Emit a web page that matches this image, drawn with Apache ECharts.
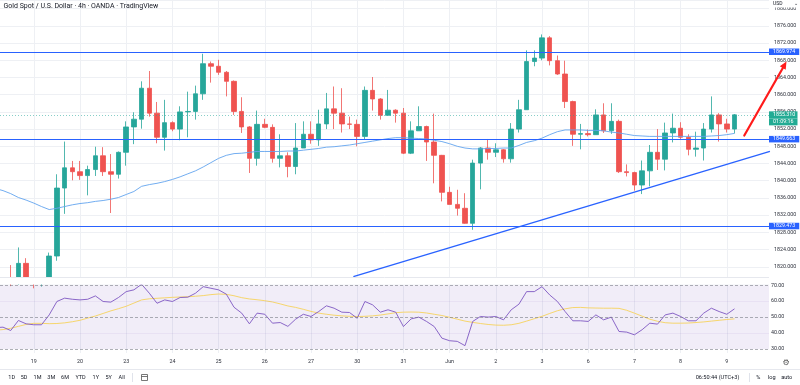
<!DOCTYPE html>
<html><head><meta charset="utf-8">
<script src="https://cdn.jsdelivr.net/npm/echarts@6/dist/echarts.min.js"></script>
<style>html,body{margin:0;padding:0;background:#fff}#c{width:800px;height:385px}</style>
</head><body><div id="c"></div>
<script>
// ---- time axis ----
const dayTickIndex = [3, 9, 15, 21, 27, 33, 39, 45, 51, 57, 63, 69, 75, 81, 87, 93];
const dayLabels = ['19', '20', '23', '24', '25', '26', '27', '30', '31', 'Jun', '2', '3', '6', '7', '8', '9'];

// ---- 4h candles (bar index 0..94) ----
const opens = [1817.2,1816.6,1820.8,1817.0,1816.2,1816.9,1822.5,1838.3,1843.0,1842.1,1841.2,1842.6,1845.8,1842.1,1841.5,1846.6,1852.5,1854.3,1861.5,1855.7,1850.1,1853.5,1852.0,1856.0,1856.1,1860.2,1867.2,1866.6,1865.2,1863.1,1856.1,1852.5,1845.2,1853.1,1852.4,1845.2,1845.8,1843.3,1847.6,1850.8,1849.5,1853.2,1856.7,1855.7,1853.2,1853.1,1850.3,1861.0,1859.0,1855.2,1856.4,1855.7,1846.4,1851.6,1852.6,1849.0,1845.9,1837.3,1834.5,1833.6,1830.1,1844.1,1847.6,1846.6,1847.2,1845.1,1852.0,1856.5,1867.7,1868.5,1873.2,1867.9,1864.8,1858.4,1850.8,1850.95,1850.7,1855.3,1851.6,1853.8,1842.1,1841.9,1839.0,1842.3,1846.6,1845.0,1851.1,1852.2,1850.1,1847.3,1847.6,1852.0,1855.3,1853.2,1852.0];
const closes = [1816.6,1820.8,1817.0,1816.2,1816.9,1822.5,1838.3,1843.0,1842.1,1841.2,1842.6,1845.8,1842.1,1841.5,1846.6,1852.5,1854.3,1861.5,1855.7,1850.1,1853.5,1852.0,1856.0,1856.1,1860.2,1867.2,1866.6,1865.2,1863.1,1856.1,1852.5,1845.2,1853.1,1852.4,1845.2,1845.8,1843.3,1847.6,1850.8,1849.5,1853.2,1856.7,1855.7,1853.2,1853.1,1850.3,1861.0,1859.0,1855.2,1856.4,1855.7,1846.4,1851.6,1852.6,1849.0,1845.9,1837.3,1834.5,1833.6,1830.1,1844.1,1847.6,1846.6,1847.2,1845.1,1852.0,1856.5,1867.7,1868.5,1873.2,1867.9,1864.8,1858.4,1850.8,1850.95,1850.7,1855.3,1851.6,1853.8,1842.1,1841.9,1839.0,1842.3,1846.6,1845.0,1851.1,1852.2,1850.1,1847.3,1847.6,1852.0,1855.3,1853.2,1852.0,1855.31];
const lows = [1815.5,1815.8,1816.0,1815.0,1815.4,1816.0,1821.4,1832.3,1840.1,1840.2,1836.6,1841.1,1841.1,1832.5,1840.5,1843.5,1848.5,1852.1,1854.9,1848.7,1847.0,1851.5,1849.4,1850.1,1854.2,1858.8,1862.8,1864.6,1859.6,1855.3,1851.1,1841.8,1843.5,1852.2,1844.2,1843.1,1840.8,1841.5,1847.6,1848.6,1848.1,1852.0,1852.0,1851.2,1852.0,1848.0,1849.5,1856.3,1854.2,1855.2,1853.5,1846.2,1846.2,1851.6,1844.6,1839.4,1835.2,1834.5,1831.9,1830.0,1828.6,1838.0,1844.9,1845.5,1844.2,1844.2,1851.2,1856.5,1866.6,1868.0,1866.8,1864.6,1856.9,1848.1,1847.3,1850.3,1850.7,1851.1,1850.9,1841.8,1841.0,1837.7,1836.9,1838.7,1842.5,1842.4,1848.9,1849.6,1845.9,1845.6,1844.7,1851.2,1849.1,1851.2,1851.0];
const highs = [1820.4,1824.5,1822.0,1817.4,1817.4,1823.3,1841.5,1849.1,1844.6,1844.6,1843.5,1847.9,1847.8,1846.2,1846.8,1853.8,1855.9,1863.1,1865.5,1858.3,1858.8,1853.8,1857.3,1860.7,1862.1,1869.5,1867.7,1868.1,1865.5,1863.3,1859.4,1852.7,1856.3,1854.4,1853.1,1850.8,1846.6,1853.4,1853.8,1853.8,1856.5,1860.4,1861.9,1861.5,1854.9,1854.2,1861.9,1864.1,1859.2,1861.1,1856.6,1856.9,1853.8,1857.3,1852.8,1855.6,1846.0,1838.6,1837.9,1837.1,1844.9,1847.8,1849.7,1848.7,1847.4,1853.4,1858.8,1870.3,1870.3,1874.0,1873.6,1869.1,1867.9,1858.6,1853.2,1851.9,1856.6,1858.0,1858.0,1854.2,1843.8,1842.1,1844.7,1848.3,1852.0,1853.5,1855.6,1853.6,1850.8,1851.4,1853.4,1859.6,1855.7,1854.4,1855.5];

// ---- indicator lines (index -2..94) ----
const lineStart = -2;
const priceMA = [1838.2,1837.7,1837.0,1836.1,1835.5,1834.8,1834.0,1833.3,1833.6,1834.0,1834.4,1834.7,1834.9,1835.2,1835.4,1835.7,1836.1,1836.8,1837.5,1838.7,1839.1,1839.4,1839.8,1840.3,1840.9,1841.6,1842.3,1843.2,1844.2,1845.2,1845.9,1846.3,1846.4,1846.6,1846.8,1846.8,1846.8,1846.8,1846.9,1846.9,1847.1,1847.3,1847.5,1847.8,1847.9,1848.1,1848.3,1848.6,1848.9,1849.2,1849.5,1849.8,1850.0,1850.0,1849.9,1849.8,1849.7,1849.4,1849.1,1848.6,1848.0,1847.6,1847.4,1847.4,1847.5,1847.5,1847.6,1847.6,1848.2,1848.9,1849.3,1849.9,1850.7,1851.4,1851.8,1851.8,1851.8,1851.7,1851.7,1851.6,1851.3,1851.1,1850.8,1850.5,1850.4,1850.3,1850.3,1850.3,1850.3,1850.3,1850.3,1850.3,1850.3,1850.4,1850.5,1850.7,1851.0];
const rsi = [43.4,43.7,41.6,47.9,45.8,45.2,45.2,51.4,59.8,61.9,61.2,60.8,61.2,63.3,59.8,59.4,62.3,66.0,67.1,70.6,65.0,58.7,60.8,59.8,62.3,62.5,65.0,69.1,68.1,67.1,64.4,56.2,52.5,45.8,52.5,51.8,46.2,46.6,44.2,48.7,51.8,50.4,53.5,57.1,55.6,53.1,52.9,49.3,59.8,57.7,53.1,54.6,53.1,44.1,48.9,50.0,47.3,44.1,36.8,35.2,34.8,32.1,47.3,50.4,50.0,50.4,48.3,54.6,58.1,66.0,66.0,69.1,63.9,59.8,53.5,47.7,47.7,47.3,51.4,48.3,50.0,41.0,40.6,38.9,42.1,46.2,45.6,51.4,52.5,50.4,47.7,47.7,52.5,55.6,53.5,51.8,55.2];
const rsiMA = [41.8,42.2,43.0,44.2,45.4,46.1,46.1,45.9,46.0,46.4,47.1,48.0,49.4,50.7,52.3,53.9,55.3,56.8,58.8,60.8,61.5,61.8,62.1,62.4,62.6,62.8,63.1,63.5,64.1,64.5,64.3,63.4,62.2,61.4,60.9,60.3,59.5,58.3,57.0,56.1,54.9,53.6,52.5,51.8,51.2,50.8,50.5,50.4,50.5,50.8,51.3,52.0,52.8,53.1,53.2,53.1,52.6,51.8,51.0,49.9,48.7,47.5,46.7,46.0,45.4,45.0,44.9,45.2,46.1,47.5,49.0,50.5,52.3,54.0,55.2,56.0,56.1,55.8,55.7,55.6,55.6,55.5,54.3,52.5,50.6,48.7,47.4,46.5,46.2,46.2,46.3,46.6,47.0,47.5,48.0,48.5,48.9];

// ---- drawings ----
const levelPrices = [1869.974, 1849.663, 1829.473];
const trendLine = [[44.5, 1817.7], [98.6, 1846.8]];
const arrowLine = [[95.27, 1850.5], [100.75, 1867.7]];
const lastPrice = 1855.31;
const countdown = '01:09:16';
const rsiDashed = [70, 50, 30];
const rsiSolid = [60, 40];
const rsiLabels = [30, 40, 50, 60, 70];

const UP = '#26a69a', DOWN = '#ef5350', BLUE = '#2962ff', ARROW = '#ff1b1b';
const TXT = '#2a2e39';
const FS = 5.3;
const xMin = -1.39, xMax = 98.48;

const candleData = opens.map((o, i) => [i, o, closes[i], lows[i], highs[i]]);
const toXY = (arr) => arr.map((v, k) => [k + lineStart, v]);

const chart = echarts.init(document.getElementById('c'), null, {renderer: 'canvas'});
const gridLine = {show: true, lineStyle: {color: '#eef0f4', width: 1}};

const staticGraphic = [
  {type: 'rect', z: 50, shape: {x: 0, y: 277.4, width: 769, height: 7.2}, style: {fill: '#fff'}},
  {type: 'line', z: 51, shape: {x1: 0, y1: 277.5, x2: 769, y2: 277.5}, style: {stroke: '#e6e8ee', lineWidth: 1}},
  {type: 'line', z: 51, shape: {x1: 0, y1: 369.5, x2: 800, y2: 369.5}, style: {stroke: '#e6e8ee', lineWidth: 1}},
  {type: 'text', z: 52, x: 3.5, y: 6, style: {text: 'Gold Spot / U.S. Dollar · 4h · OANDA · TradingView', fontSize: 7, fill: '#131722', verticalAlign: 'middle', fontFamily: 'Roboto'}},
  {type: 'rect', z: 50, shape: {x: 769, y: 0, width: 31, height: 7.5}, style: {fill: '#fff'}},
  {type: 'text', z: 52, x: 773, y: 4, style: {text: 'USD', fontSize: 5, fill: '#131722', verticalAlign: 'middle', fontFamily: 'Roboto'}},
  {type: 'text', z: 52, x: 794, y: 4, style: {text: '⌄', fontSize: 5, fill: '#131722', verticalAlign: 'middle', fontFamily: 'DejaVu Sans'}},
  {type: 'text', z: 52, x: 786, y: 362.5, style: {text: '⚙', fontSize: 8, fill: '#555', align: 'center', verticalAlign: 'middle', fontFamily: 'DejaVu Sans'}},
  ...[['1D', 11.7], ['5D', 24], ['1M', 37.5], ['3M', 51.3], ['6M', 65], ['YTD', 80.5], ['1Y', 95.8], ['5Y', 108.7], ['All', 121.7]].map(([t, x]) => (
    {type: 'text', z: 52, x: x, y: 377.7, style: {text: t, fontSize: 5.5, fill: '#131722', align: 'center', verticalAlign: 'middle', fontFamily: 'Roboto'}})),
  {type: 'line', z: 51, shape: {x1: 132.5, y1: 373, x2: 132.5, y2: 382}, style: {stroke: '#e0e3eb', lineWidth: 1}},
  {type: 'rect', z: 51, shape: {x: 141.5, y: 374.5, width: 6, height: 6}, style: {fill: 'none', stroke: '#555', lineWidth: 0.8}},
  {type: 'line', z: 51, shape: {x1: 141.5, y1: 376.5, x2: 147.5, y2: 376.5}, style: {stroke: '#555', lineWidth: 0.8}},
  {type: 'text', z: 52, x: 717.5, y: 377.7, style: {text: '06:50:44 (UTC+3)', fontSize: 5.6, fill: '#131722', align: 'center', verticalAlign: 'middle', fontFamily: 'Roboto'}},
  {type: 'line', z: 51, shape: {x1: 749.5, y1: 373, x2: 749.5, y2: 382}, style: {stroke: '#e0e3eb', lineWidth: 1}},
  {type: 'text', z: 52, x: 758.3, y: 377.7, style: {text: '%', fontSize: 5.6, fill: '#131722', align: 'center', verticalAlign: 'middle', fontFamily: 'Roboto'}},
  {type: 'text', z: 52, x: 771.7, y: 377.7, style: {text: 'log', fontSize: 5.6, fill: '#131722', align: 'center', verticalAlign: 'middle', fontFamily: 'Roboto'}},
  {type: 'text', z: 52, x: 786.7, y: 377.7, style: {text: 'auto', fontSize: 5.6, fill: '#131722', align: 'center', verticalAlign: 'middle', fontFamily: 'Roboto'}}
];

chart.setOption({
  animation: false,
  backgroundColor: '#fff',
  textStyle: {fontFamily: 'Roboto'},
  grid: [
    {left: 0, right: 31, top: 0, height: 284},
    {left: 0, right: 31, top: 283, height: 70}
  ],
  xAxis: [
    {type: 'value', gridIndex: 0, min: xMin, max: xMax,
     axisLine: {show: false}, axisTick: {show: false, customValues: dayTickIndex},
     axisLabel: {show: false, customValues: dayTickIndex}, splitLine: gridLine},
    {type: 'value', gridIndex: 1, min: xMin, max: xMax,
     axisLine: {show: false}, axisTick: {show: false, customValues: dayTickIndex},
     axisLabel: {show: true, customValues: dayTickIndex, margin: 6, fontSize: FS, color: TXT,
       formatter: (v) => { const k = dayTickIndex.indexOf(Math.round(v)); return k >= 0 ? dayLabels[k] : ''; }},
     splitLine: gridLine}
  ],
  yAxis: [
    {type: 'value', gridIndex: 0, position: 'right', min: 1816, max: 1882, interval: 4,
     axisLine: {show: false}, axisTick: {show: false}, splitLine: gridLine,
     axisLabel: {margin: 5, fontSize: FS, color: TXT,
       formatter: (v) => (Math.abs(v % 4) < 1e-6 && v !== 1816) ? v.toFixed(3) : ''}},
    {type: 'value', gridIndex: 1, position: 'right', min: 27.5, max: 71.4,
     axisLine: {show: false}, axisTick: {show: false}, splitLine: {show: false},
     axisLabel: {margin: 2, fontSize: FS, color: TXT, customValues: rsiLabels,
       formatter: (v) => v.toFixed(2)}}
  ],
  series: [
    {type: 'candlestick', xAxisIndex: 0, yAxisIndex: 0, data: candleData,
     encode: {x: 0, y: [1, 2, 3, 4]}, barWidth: 5, clip: true,
     itemStyle: {color: UP, color0: DOWN, borderColor: UP, borderColor0: DOWN, borderWidth: 0.8}},
    {type: 'line', xAxisIndex: 0, yAxisIndex: 0, data: toXY(priceMA), symbol: 'none', clip: false, z: 3,
     lineStyle: {color: '#62a4ee', width: 0.9},
     markLine: {silent: true, symbol: 'none', animation: false,
       data: [
         ...levelPrices.map(p => ({yAxis: p, lineStyle: {color: BLUE, width: 1.2, type: 'solid'},
           label: {show: true, position: 'end', distance: 0, formatter: p.toFixed(3), color: '#fff',
             backgroundColor: BLUE, padding: [1, 4, 0.5, 4], fontSize: FS}})),
         {yAxis: lastPrice, lineStyle: {color: 'rgba(38,166,154,0.55)', width: 1, type: [1, 2]},
          label: {show: true, position: 'end', distance: 0, lineHeight: 7,
            formatter: '{e| }\n{a|' + lastPrice.toFixed(3) + '}\n{b|' + countdown + '}',
            rich: {
              e: {height: 7, lineHeight: 7, fontSize: FS},
              a: {height: 7, lineHeight: 7, width: 21, padding: [0, 3.5, 0, 4], backgroundColor: '#22ab94', color: '#fff', fontSize: FS},
              b: {height: 7, lineHeight: 7, width: 21, padding: [0, 3.5, 0, 4], backgroundColor: '#22ab94', color: '#fff', fontSize: FS}
            }}}
       ]
     }},
    {type: 'line', xAxisIndex: 0, yAxisIndex: 0, data: trendLine, symbol: 'none', clip: false, z: 6,
     lineStyle: {color: BLUE, width: 1.3}},
    {type: 'line', xAxisIndex: 1, yAxisIndex: 1, data: toXY(rsi), symbol: 'none', z: 4,
     lineStyle: {color: '#7e57c2', width: 0.9},
     markArea: {silent: true, itemStyle: {color: 'rgba(126,87,194,0.11)'}, data: [[{yAxis: 30}, {yAxis: 70}]]},
     markLine: {silent: true, symbol: 'none', label: {show: false},
       data: [
         ...rsiDashed.map(v => ({yAxis: v, lineStyle: {color: 'rgba(120,123,134,0.6)', width: 1, type: [3, 2]}})),
         ...rsiSolid.map(v => ({yAxis: v, lineStyle: {color: 'rgba(126,87,194,0.08)', width: 1, type: 'solid'}}))
       ]}},
    {type: 'line', xAxisIndex: 1, yAxisIndex: 1, data: toXY(rsiMA), symbol: 'none', z: 3,
     lineStyle: {color: '#f6d35c', width: 0.9}}
  ],
  graphic: staticGraphic
});

// Red arrow drawing: endpoints given in data space, mapped through the price grid's scales
const p0 = chart.convertToPixel({gridIndex: 0}, arrowLine[0]);
const p1 = chart.convertToPixel({gridIndex: 0}, arrowLine[1]);
const dx = p1[0] - p0[0], dy = p1[1] - p0[1];
const len = Math.sqrt(dx * dx + dy * dy);
const ux = dx / len, uy = dy / len, nx = -uy, ny = ux;
const headLen = 7.5, headHalf = 3.4;
const bx = p1[0] - ux * headLen, by = p1[1] - uy * headLen;
chart.setOption({
  graphic: staticGraphic.concat([
    {type: 'line', z: 60, shape: {x1: p0[0], y1: p0[1], x2: bx + ux, y2: by + uy},
     style: {stroke: ARROW, lineWidth: 2.2, lineCap: 'round'}},
    {type: 'polygon', z: 60, shape: {points: [[p1[0], p1[1]], [bx + nx * headHalf, by + ny * headHalf], [bx - nx * headHalf, by - ny * headHalf]]},
     style: {fill: ARROW}}
  ])
});
</script>
</body></html>
